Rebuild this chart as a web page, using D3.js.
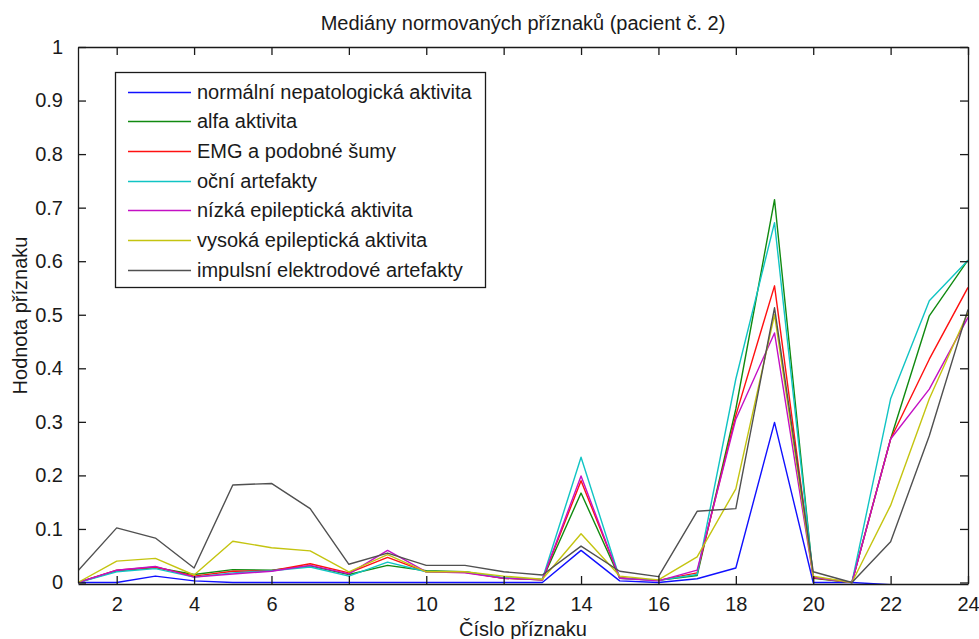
<!DOCTYPE html>
<html>
<head>
<meta charset="utf-8">
<script src="https://cdn.jsdelivr.net/npm/d3@7"></script>
<style>
  html, body { margin: 0; padding: 0; background: #fff; }
  svg { display: block; }
  text { font-family: "Liberation Sans", Arial, Helvetica, sans-serif; fill: #1a1a1a; }
</style>
</head>
<body>
<svg id="chart" width="979" height="639"></svg>
<script>
// Feature index 1..24
const features = d3.range(1, 25);

const seriesNames = [
  "normální nepatologická aktivita",
  "alfa aktivita",
  "EMG a podobné šumy",
  "oční artefakty",
  "nízká epileptická aktivita",
  "vysoká epileptická aktivita",
  "impulsní elektrodové artefakty"
];

const seriesColors = ["#1010ff", "#108a10", "#ff1010", "#10c4c4", "#c410c4", "#c4c410", "#505050"];

// Median of normalised feature values, one array per class
const normalni = [0, 0, 0.012, 0.003, 0, 0, 0, 0, 0, 0, 0, 0, 0, 0.06, 0.003, 0, 0.007, 0.027, 0.299, 0, 0, -0.004, -0.004, -0.004];
const alfa     = [0, 0.022, 0.028, 0.015, 0.024, 0.023, 0.031, 0.015, 0.032, 0.022, 0.02, 0.008, 0.005, 0.167, 0.008, 0.004, 0.013, 0.324, 0.715, 0.008, 0, 0.268, 0.498, 0.602];
const emg      = [0, 0.023, 0.029, 0.012, 0.021, 0.022, 0.035, 0.018, 0.047, 0.02, 0.019, 0.008, 0.005, 0.19, 0.009, 0.004, 0.018, 0.312, 0.554, 0.009, 0, 0.268, 0.417, 0.551];
const ocni     = [0, 0.02, 0.026, 0.01, 0.018, 0.022, 0.029, 0.012, 0.038, 0.02, 0.02, 0.009, 0.006, 0.234, 0.008, 0.004, 0.015, 0.38, 0.672, 0.01, 0, 0.343, 0.526, 0.602];
const nizka    = [0, 0.023, 0.03, 0.01, 0.016, 0.021, 0.032, 0.016, 0.06, 0.02, 0.018, 0.008, 0.005, 0.199, 0.008, 0.003, 0.023, 0.305, 0.466, 0.01, 0, 0.268, 0.361, 0.495];
const vysoka   = [0, 0.04, 0.045, 0.014, 0.077, 0.065, 0.059, 0.02, 0.052, 0.02, 0.02, 0.012, 0.006, 0.091, 0.012, 0.005, 0.048, 0.175, 0.5, 0.012, 0, 0.144, 0.343, 0.504];
const impulsni = [0.022, 0.102, 0.083, 0.027, 0.182, 0.185, 0.138, 0.034, 0.055, 0.032, 0.032, 0.02, 0.014, 0.068, 0.021, 0.011, 0.133, 0.138, 0.513, 0.02, 0, 0.076, 0.274, 0.51];

const seriesValues = [normalni, alfa, emg, ocni, nizka, vysoka, impulsni];

const xTicks = d3.range(2, 25, 2);
const yTicks = d3.range(0, 11).map(d => d / 10);

const titleText = "Mediány normovaných příznaků (pacient č. 2)";
const xLabel = "Číslo příznaku";
const yLabel = "Hodnota příznaku";

// Layout
const L = 78, R = 968, T = 47, B = 584;
const fontSize = 20;

const svg = d3.select("#chart");

const x = d3.scaleLinear().domain([1, 24]).range([L, R]);
const y = d3.scaleLinear().domain([0, 1]).range([B - 1.5, T]);

svg.append("defs").append("clipPath").attr("id", "plotClip")
  .append("rect").attr("x", L).attr("y", T).attr("width", R - L).attr("height", B - T);

// Data lines
const line = d3.line().x((d, i) => x(features[i])).y(d => y(d));
const plot = svg.append("g").attr("clip-path", "url(#plotClip)");
seriesValues.forEach((vals, k) => {
  plot.append("path")
    .datum(vals)
    .attr("d", line)
    .attr("fill", "none")
    .attr("stroke", seriesColors[k])
    .attr("stroke-width", 1.4)
    .attr("stroke-linejoin", "round");
});

// Axes (ticks inward on all four sides, box style)
const tickLen = 8;
const axisStyle = g => {
  g.select(".domain").attr("stroke", "#1a1a1a").attr("stroke-width", 1.3);
  g.selectAll(".tick line").attr("stroke", "#1a1a1a").attr("stroke-width", 1.3);
  g.selectAll("text").style("font-size", fontSize + "px").attr("fill", "#1a1a1a");
};

svg.append("g")
  .attr("transform", `translate(0,${B})`)
  .call(d3.axisBottom(x).tickValues(xTicks).tickSizeInner(-tickLen).tickSizeOuter(0).tickPadding(13).tickFormat(d3.format("d")))
  .call(axisStyle);

svg.append("g")
  .attr("transform", `translate(0,${T})`)
  .call(d3.axisTop(x).tickValues(xTicks).tickSizeInner(-tickLen).tickSizeOuter(0).tickFormat(""))
  .call(axisStyle);

svg.append("g")
  .attr("transform", `translate(${L},0)`)
  .call(d3.axisLeft(y).tickValues(yTicks).tickSizeInner(-tickLen).tickSizeOuter(0).tickPadding(15).tickFormat(d => d3.format("~g")(d)))
  .call(axisStyle);

svg.append("g")
  .attr("transform", `translate(${R},0)`)
  .call(d3.axisRight(y).tickValues(yTicks).tickSizeInner(-tickLen).tickSizeOuter(0).tickFormat(""))
  .call(axisStyle);

// Title and axis labels
svg.append("text")
  .attr("x", (L + R) / 2).attr("y", 30)
  .attr("text-anchor", "middle")
  .style("font-size", fontSize + "px")
  .text(titleText);

svg.append("text")
  .attr("x", (L + R) / 2).attr("y", 636)
  .attr("text-anchor", "middle")
  .style("font-size", fontSize + "px")
  .text(xLabel);

svg.append("text")
  .attr("transform", `translate(27,${(T + B) / 2}) rotate(-90)`)
  .attr("text-anchor", "middle")
  .style("font-size", fontSize + "px")
  .text(yLabel);

// Legend
const legend = svg.append("g");
legend.append("rect")
  .attr("x", 115.5).attr("y", 72.5).attr("width", 370).attr("height", 215)
  .attr("fill", "#fff").attr("stroke", "#1a1a1a").attr("stroke-width", 1.3);

const rowY = d3.scaleLinear().domain([0, seriesNames.length - 1]).range([91.5, 269.5]);
seriesNames.forEach((name, k) => {
  legend.append("line")
    .attr("x1", 128).attr("x2", 191)
    .attr("y1", Math.round(rowY(k)) + 0.5).attr("y2", Math.round(rowY(k)) + 0.5)
    .attr("stroke", seriesColors[k]).attr("stroke-width", 1.4);
  legend.append("text")
    .attr("x", 197).attr("y", rowY(k))
    .attr("dy", "0.35em")
    .style("font-size", fontSize + "px")
    .text(name);
});
</script>
</body>
</html>
